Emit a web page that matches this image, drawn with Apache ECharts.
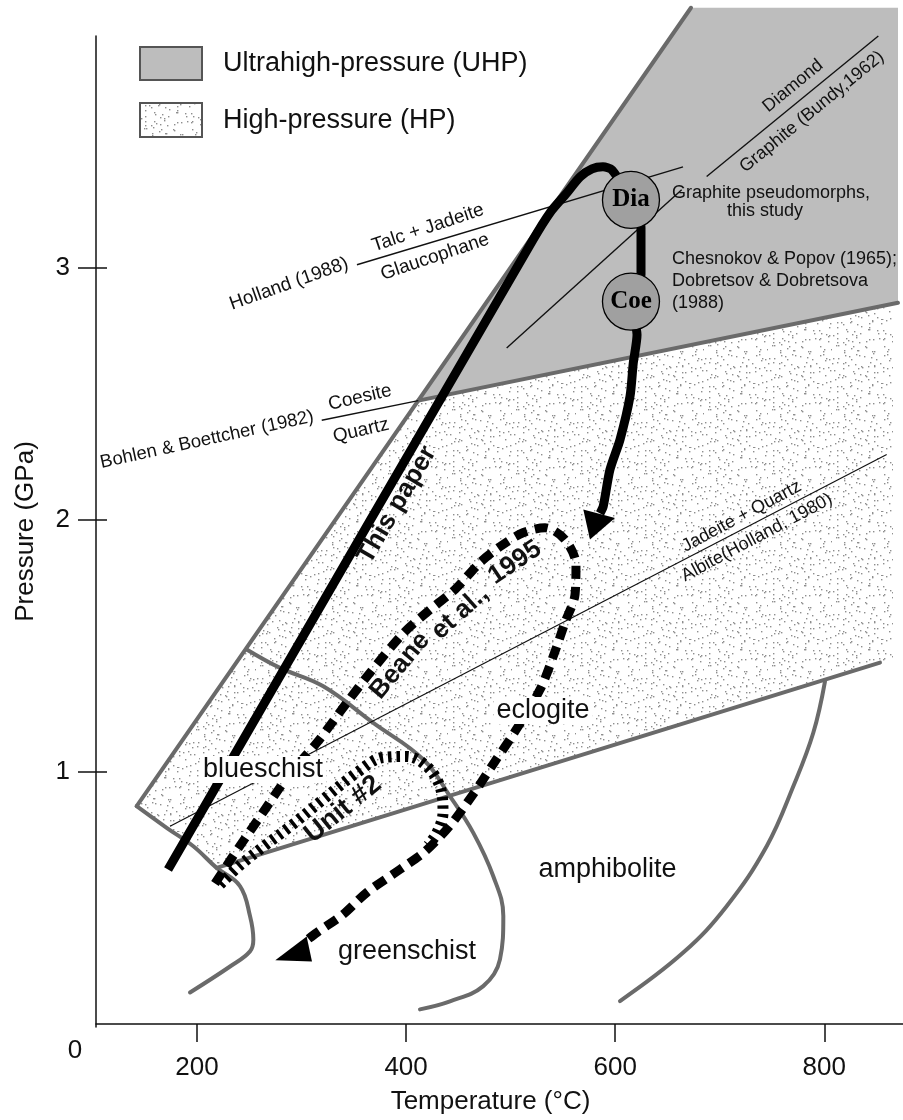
<!DOCTYPE html>
<html>
<head>
<meta charset="utf-8">
<script src="https://cdn.jsdelivr.net/npm/echarts@6.0.0/dist/echarts.min.js"></script>
<style>
  html, body { margin: 0; padding: 0; background: #fff; }
  #chart { width: 903px; height: 1120px; }
</style>
</head>
<body>
<div id="chart"></div>
<script>
// ---- P–T data: every pair is [temperature (°C), pressure (GPa)] ----
const tempTicks = [200, 400, 600, 800];
const pressureTicks = [1, 2, 3];

// shaded fields
const uhpRegion = [[411.7, 2.472], [672.5, 4.03], [870.5, 4.03], [870.5, 2.860]];
const hpRegion = [[142.3, 0.864], [411.7, 2.472], [865.7, 2.856], [865.7, 1.449], [853.3, 1.433],
                  [218.8, 0.619], [196.5, 0.705], [171.0, 0.778]];

// facies boundaries (grey)
const envelopeEdge = [[142.3, 0.864], [672.5, 4.03]];
const uhpBoundary = [[411.7, 2.472], [870.5, 2.860]];
const hpBase = [[218.8, 0.619], [853.3, 1.433]];
const greenschistEdge = [[142.3, 0.864], [171.0, 0.778], [196.5, 0.705], [218.8, 0.619], [241.1, 0.547],
                         [250.7, 0.428], [253.9, 0.335], [250.7, 0.288], [231.6, 0.228], [193.3, 0.125]];
const blueschistEdge = [[247.5, 1.485], [279.4, 1.412], [320.8, 1.339], [368.6, 1.194], [416.5, 1.049],
                        [442.0, 0.903], [464.3, 0.758], [483.4, 0.586], [493.0, 0.428], [489.8, 0.256],
                        [473.8, 0.150], [442.0, 0.090], [413.3, 0.058]];
const amphiboliteEdge = [[800.7, 1.359], [789.5, 1.155], [770.4, 0.943], [744.9, 0.705], [706.6, 0.467],
                         [665.1, 0.283], [604.6, 0.091]];

// reaction curves (thin black)
const talcGlaucophane = [[353.0, 3.011], [664.9, 3.399]];
const diamondGraphite = [[687.5, 3.361], [851.7, 3.918]];
const diamondGraphiteAlt = [[496.2, 2.681], [663.6, 3.308]];
const coesiteQuartz = [[319.3, 2.394], [411.7, 2.472]];
const jadeiteAlbite = [[174.2, 0.784], [859.7, 2.258]];

// P–T paths
const thisPaperPath = [[172.3, 0.613], [521.4, 3.110], [537.6, 3.217], [553.6, 3.295], [566.3, 3.359],
                       [577.8, 3.391], [588.3, 3.399], [596.9, 3.387], [615.1, 3.268], [624.7, 3.157],
                       [624.7, 2.971], [615.1, 2.865], [620.9, 2.733], [617.3, 2.621], [614.2, 2.489],
                       [604.6, 2.317], [595.0, 2.198], [588.6, 2.053], [585.5, 2.025]];
const thisPaperArrow = [[569.5, 2.040], [599.8, 2.007], [575.9, 1.921]];
const beanePath = [[217.2, 0.557], [233.5, 0.660], [263.1, 0.839], [289.0, 0.993], [314.8, 1.116],
                   [343.5, 1.275], [362.6, 1.378], [397.0, 1.548], [422.9, 1.643], [446.8, 1.723],
                   [470.7, 1.830], [489.8, 1.893], [511.8, 1.948], [532.9, 1.968], [552.0, 1.921],
                   [562.5, 1.822], [561.6, 1.703], [552.0, 1.592], [542.4, 1.477], [528.1, 1.326],
                   [504.2, 1.160], [485.0, 1.041], [464.0, 0.910], [442.0, 0.787], [418.1, 0.684],
                   [394.2, 0.613], [362.6, 0.522], [339.6, 0.434], [314.8, 0.363], [303.3, 0.327]];
const beaneArrow = [[304.9, 0.347], [310.0, 0.248], [274.9, 0.253]];
const unit2Path = [[222.0, 0.553], [241.1, 0.629], [265.0, 0.708], [289.0, 0.783], [320.5, 0.890],
                   [353.0, 0.997], [377.9, 1.057], [400.9, 1.061], [420.0, 1.021], [432.4, 0.942],
                   [435.3, 0.839], [429.6, 0.759], [421.0, 0.708]];

// inclusion sites
const inclusionNames = ['Dia', 'Coe'];
const inclusionPoints = [[615.1, 3.268], [615.1, 2.865]];

// ---- styling ----
const SANS = '"Liberation Sans", Arial, Helvetica, sans-serif';
const SERIF = '"Liberation Serif", "Times New Roman", serif';
const INK = '#111';
const FIELD_LINE = '#6a6a6a';
const UHP_FILL = '#bdbdbd';

// fine stipple used for the high-pressure field
function stippleTile() {
  const size = 64, c = document.createElement('canvas');
  c.width = c.height = size;
  const g = c.getContext('2d');
  g.fillStyle = '#fff';
  g.fillRect(0, 0, size, size);
  g.fillStyle = '#8e8e8e';
  let s = 12345;
  const next = () => (s = (s * 1103515245 + 12345) % 2147483648) / 2147483648;
  for (let i = 0; i < size; i += 8) {
    for (let j = 0; j < size; j += 8) {
      for (let k = 0; k < 2; k++) {
        g.fillRect(i + Math.floor(next() * 8), j + Math.floor(next() * 8), 1.4, 1.4);
      }
    }
  }
  return c;
}
const stipple = { image: stippleTile(), repeat: 'repeat' };

// annotation text anchored in data space
const notes = [
  { text: 'Holland (1988)', at: [288.0, 2.935], rot: 19.6, size: 19 },
  { text: 'Talc + Jadeite', at: [420.9, 3.157], rot: 18.6, size: 19 },
  { text: 'Glaucophane', at: [427.6, 3.042], rot: 18.6, size: 19 },
  { text: 'Bohlen & Boettcher (1982)', at: [209.6, 2.317], rot: 12.3, size: 18.5 },
  { text: 'Coesite', at: [355.9, 2.484], rot: 13, size: 19 },
  { text: 'Quartz', at: [356.9, 2.353], rot: 13, size: 19 },
  { text: 'Diamond', at: [770.1, 3.720], rot: 39.4, size: 18 },
  { text: 'Graphite (Bundy,1962)', at: [788.2, 3.617], rot: 39.4, size: 18 },
  { text: 'Graphite pseudomorphs,', at: [654.3, 3.296], size: 18, align: 'left' },
  { text: 'this study', at: [743.3, 3.225], size: 18 },
  { text: 'Chesnokov & Popov (1965);', at: [654.3, 3.034], size: 18, align: 'left' },
  { text: 'Dobretsov & Dobretsova', at: [654.3, 2.945], size: 18, align: 'left' },
  { text: '(1988)', at: [654.3, 2.858], size: 18, align: 'left' },
  { text: 'Jadeite + Quartz', at: [721.0, 2.013], rot: 28, size: 18 },
  { text: 'Albite(Holland, 1980)', at: [735.6, 1.929], rot: 28, size: 18 },
  { text: 'This paper', at: [391.3, 2.059], rot: 59.6, size: 26, bold: true },
  { text: 'Beane', at: [394.2, 1.421], rot: 50, size: 26, bold: true },
  { text: 'et al.,', at: [451.6, 1.631], rot: 42, size: 26, bold: true },
  { text: '1995', at: [504.2, 1.830], rot: 34, size: 26, bold: true },
  { text: 'Unit #2', at: [339.6, 0.851], rot: 39, size: 27, bold: true },
  { text: 'blueschist', at: [263.1, 1.009], size: 27, knockout: true },
  { text: 'greenschist', at: [400.9, 0.288], size: 27 },
  { text: 'eclogite', at: [531.0, 1.243], size: 27, knockout: true },
  { text: 'amphibolite', at: [592.6, 0.613], size: 27 }
];

function polygonSeries(name, points, style, z) {
  return {
    name, type: 'custom', coordinateSystem: 'cartesian2d', clip: false, silent: true, z,
    data: [points[0]],
    renderItem: (params, api) => ({
      type: 'polygon',
      shape: { points: points.map(p => api.coord(p)) },
      style
    })
  };
}

function lineSeries(name, points, lineStyle, z, smooth) {
  return {
    name, type: 'line', data: points, symbol: 'none', showSymbol: false, clip: false,
    silent: true, z, smooth: smooth || false, lineStyle
  };
}

const fieldLine = { color: FIELD_LINE, width: 4, cap: 'round', join: 'round' };
const thinLine = { color: INK, width: 1.4 };

const option = {
  animation: false,
  backgroundColor: '#fff',
  grid: { left: 96, right: 0, top: 36, bottom: 92.3, containLabel: false },
  xAxis: {
    type: 'value', min: 103.4, max: 875.3,
    name: 'Temperature (°C)', nameLocation: 'middle', nameGap: 62,
    nameTextStyle: { fontSize: 26, fontFamily: SANS, color: INK, padding: [0, 18, 0, 0] },
    axisLine: { lineStyle: { color: INK, width: 1.5 } },
    axisTick: { customValues: tempTicks, length: 18, lineStyle: { color: INK, width: 1.5 } },
    axisLabel: { customValues: tempTicks, margin: 28, fontSize: 26, fontFamily: SANS, color: INK },
    splitLine: { show: false }
  },
  yAxis: [
    {
      type: 'value', min: -0.012, max: 3.918,
      name: 'Pressure (GPa)', nameLocation: 'middle', nameGap: 57,
      nameTextStyle: { fontSize: 26, fontFamily: SANS, color: INK },
      axisLine: { lineStyle: { color: INK, width: 1.5 } },
      axisTick: { customValues: pressureTicks, length: 18, lineStyle: { color: INK, width: 1.5 } },
      axisLabel: { customValues: pressureTicks, margin: 26, fontSize: 26, fontFamily: SANS, color: INK },
      splitLine: { show: false }
    },
    {
      type: 'value', min: -0.012, max: 3.918, position: 'left',
      axisLine: { show: false },
      axisTick: { inside: true, customValues: pressureTicks, length: 11, lineStyle: { color: INK, width: 1.5 } },
      axisLabel: { show: false },
      splitLine: { show: false }
    }
  ],
  graphic: [
    { type: 'rect', x: 140, y: 47, shape: { width: 62, height: 33 }, style: { fill: UHP_FILL, stroke: '#555', lineWidth: 2 } },
    { type: 'rect', x: 140, y: 103, shape: { width: 62, height: 34 }, style: { fill: stipple, stroke: '#555', lineWidth: 2 } },
    { type: 'text', x: 223, y: 64, style: { text: 'Ultrahigh-pressure (UHP)', fontSize: 27, fontFamily: SANS, fill: INK, verticalAlign: 'middle' } },
    { type: 'text', x: 223, y: 121, style: { text: 'High-pressure (HP)', fontSize: 27, fontFamily: SANS, fill: INK, verticalAlign: 'middle' } },
    { type: 'text', x: 75, y: 1051, style: { text: '0', fontSize: 26, fontFamily: SANS, fill: INK, align: 'center', verticalAlign: 'middle' } }
  ],
  series: [
    polygonSeries('HP field', hpRegion, { fill: stipple }, 1),
    polygonSeries('UHP field', uhpRegion, { fill: UHP_FILL }, 1),

    lineSeries('envelope', envelopeEdge, fieldLine, 2),
    lineSeries('UHP boundary', uhpBoundary, fieldLine, 2),
    lineSeries('HP base', hpBase, fieldLine, 2),
    lineSeries('greenschist edge', greenschistEdge, fieldLine, 2, 0.4),
    lineSeries('blueschist edge', blueschistEdge, fieldLine, 2, 0.4),
    lineSeries('amphibolite edge', amphiboliteEdge, fieldLine, 2, 0.4),

    lineSeries('Talc + Jadeite = Glaucophane', talcGlaucophane, thinLine, 3),
    lineSeries('Diamond = Graphite', diamondGraphite, thinLine, 3),
    lineSeries('Diamond = Graphite (alt.)', diamondGraphiteAlt, thinLine, 3),
    lineSeries('Coesite = Quartz', coesiteQuartz, thinLine, 3),
    lineSeries('Jadeite + Quartz = Albite', jadeiteAlbite, { color: INK, width: 1.2 }, 3),

    lineSeries('This paper', thisPaperPath, { color: '#000', width: 9, cap: 'butt', join: 'round' }, 4, 0.25),
    lineSeries('Beane et al., 1995', beanePath, { color: '#000', width: 9, type: [13, 8], cap: 'butt', join: 'round' }, 4, 0.3),
    lineSeries('Unit #2', unit2Path, { color: '#000', width: 11, type: [3.5, 5], cap: 'butt', join: 'round' }, 4, 0.35),
    polygonSeries('This paper arrow', thisPaperArrow, { fill: '#000' }, 5),
    polygonSeries('Beane arrow', beaneArrow, { fill: '#000' }, 5),

    {
      name: 'inclusions', type: 'scatter', data: inclusionPoints, symbol: 'circle', symbolSize: 57,
      silent: true, z: 6,
      itemStyle: { color: '#a0a0a0', borderColor: '#000', borderWidth: 1.3, opacity: 1 },
      label: {
        show: true, position: 'inside', color: '#000', fontFamily: SERIF, fontWeight: 'bold', fontSize: 25,
        formatter: p => inclusionNames[p.dataIndex]
      }
    },
    {
      name: 'annotations', type: 'custom', coordinateSystem: 'cartesian2d', clip: false, silent: true, z: 7,
      data: notes.map(n => n.at),
      renderItem: (params, api) => {
        const n = notes[params.dataIndex];
        const p = api.coord(n.at);
        return {
          type: 'text', x: p[0], y: p[1], rotation: (n.rot || 0) * Math.PI / 180,
          style: {
            text: n.text, fontSize: n.size, fontFamily: SANS, fontWeight: n.bold ? 'bold' : 'normal',
            fill: INK, align: n.align || 'center', verticalAlign: 'middle',
            backgroundColor: n.knockout ? '#fff' : 'transparent', padding: n.knockout ? [0, 3] : 0
          }
        };
      }
    }
  ]
};

const chart = echarts.init(document.getElementById('chart'), null, { renderer: 'canvas' });
chart.setOption(option);
</script>
</body>
</html>
